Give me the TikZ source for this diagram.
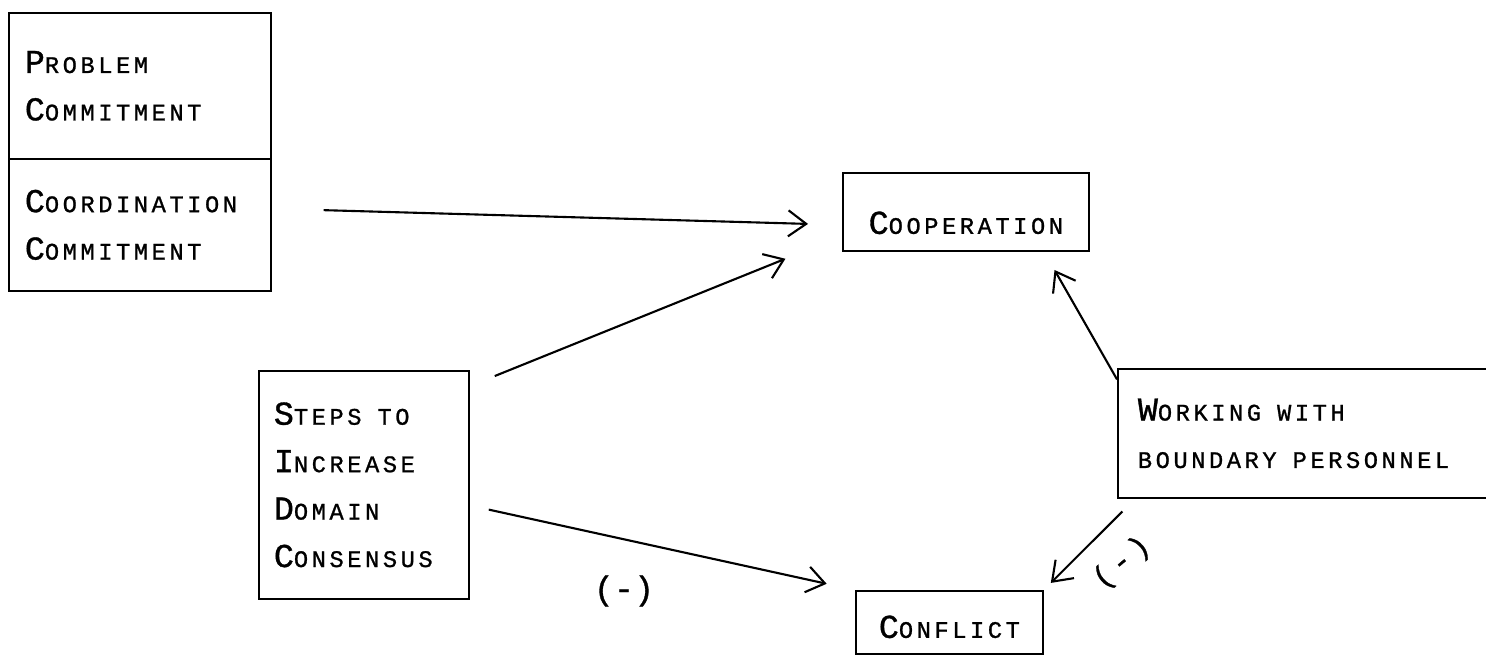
\documentclass[tikz,border=0pt]{standalone}
\usepackage{fontspec}
\newfontfamily\typefont[LetterSpace=15,FakeBold=1]{Liberation Mono}
\newfontfamily\labfont[FakeBold=1]{Liberation Mono}
\usetikzlibrary{arrows.meta}
\newcommand{\bigini}[1]{{\fontsize{19}{27}\selectfont #1}}
\newcommand{\wsp}{\hspace{0.32cm}}

\begin{document}
\begin{tikzpicture}[x=0.02cm,y=-0.02cm]
          \useasboundingbox (0,0) rectangle (1486,655);
          \clip (0,0) rectangle (1486,655);
          \tikzstyle{every node} = [draw, rectangle, line width=1pt, anchor=north west, inner ysep=0pt, align=left, font=\typefont\fontsize{13.5}{27}\selectfont];
          \node(prob)[text width=4.6cm, inner xsep=0.32cm, minimum height=2.92cm] at (8,12) {\bigini{P}ROBLEM\\\bigini{C}OMMITMENT};
          \node(coord)[text width=4.6cm, inner xsep=0.32cm, minimum height=2.64cm] at (8,158) {\bigini{C}OORDINATION\\\bigini{C}OMMITMENT};
          \node(steps)[text width=3.6cm, inner xsep=0.3cm, minimum height=4.56cm] at (258,370) {\bigini{S}TEPS\wsp TO\\\bigini{I}NCREASE\\\bigini{D}OMAIN\\\bigini{C}ONSENSUS};
          \node(coop)[minimum width=4.92cm, minimum height=1.56cm, text height=0.88cm, text depth=0pt] at (842,172) {\bigini{C}OOPERATION};
          \node(confl)[minimum width=3.74cm, minimum height=1.26cm, text height=0.62cm, text depth=0pt] at (855,590) {\bigini{C}ONFLICT};
          \node(work)[text width=6.7cm, inner xsep=0.4cm, minimum height=2.58cm] at (1117,368) {\bigini{W}ORKING\wsp WITH\\BOUNDARY\wsp PERSONNEL};
          \tikzstyle{every node} = []
          \tikzstyle{link} = [line width=1.2pt, -{Straight Barb[length=0.36cm,width=0.52cm,line width=1.2pt]}]
          \path[link]
          (coord.7) edge[shorten <=1.04cm, shorten >=0.68cm] (coop.186);
          \path[link]
          (steps.43) edge[shorten <=0.54cm, shorten >=1.22cm] (coop.191);
          \path[link]
          (steps.-11) edge[shorten <=0.39cm, shorten >=0.58cm] (confl.north west);
          \path[link]
          (work.164) edge[shorten >=0.42cm] (coop.-27);
          \path[link]
          (work.201) edge[shorten <=0.36cm, shorten >=0.2cm] (confl.north east);
          \node(negA) at (624,591) {\labfont\fontsize{19}{22}\selectfont(-)};
          \node(negB)[rotate=40] at (1122,563) {\labfont\fontsize{17}{20}\selectfont(\hspace{3pt}-\hspace{3pt})};
\end{tikzpicture}
\end{document}
